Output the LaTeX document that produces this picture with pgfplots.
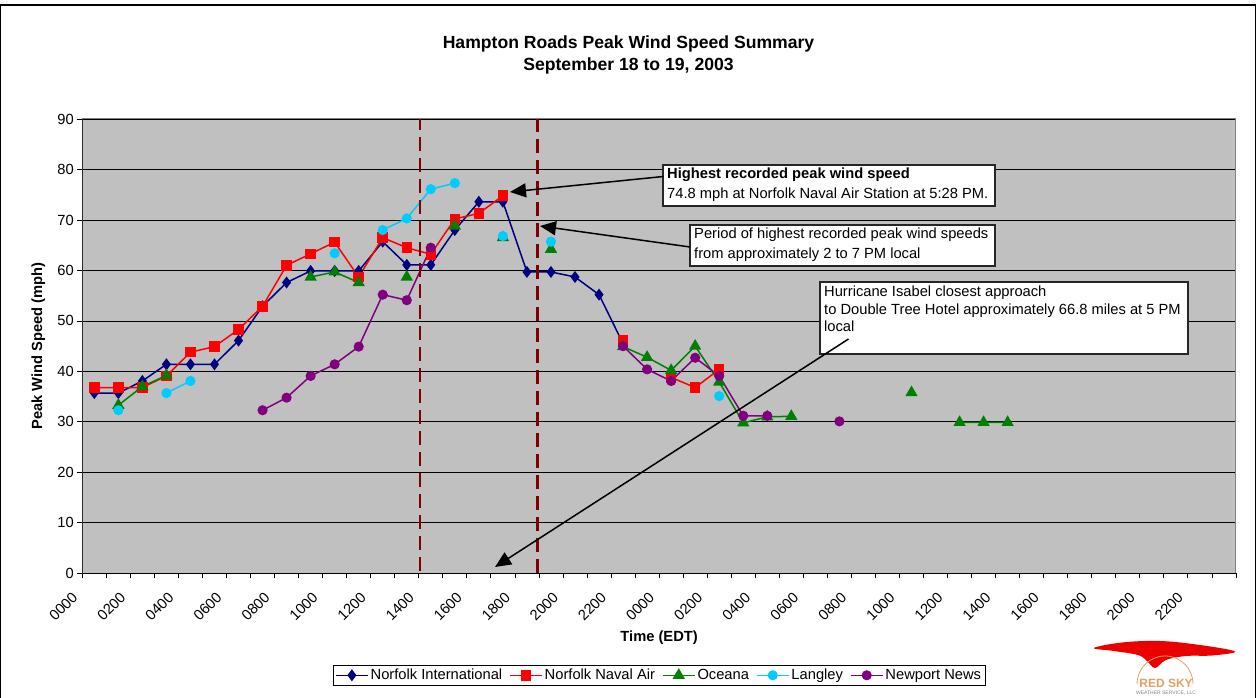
\documentclass[border=0pt]{standalone}
\usepackage{pgfplots}
\pgfplotsset{compat=1.18}
\usepackage{fontspec}
\setmainfont{Liberation Sans}
\usetikzlibrary{arrows.meta}
\definecolor{navyc}{RGB}{0,0,128}
\definecolor{redc}{RGB}{255,0,0}
\definecolor{greenc}{RGB}{0,128,0}
\definecolor{cyanc}{RGB}{0,204,255}
\definecolor{purplec}{RGB}{128,0,128}
\definecolor{maroonc}{RGB}{128,0,0}
\definecolor{plotbg}{RGB}{192,192,192}
\definecolor{logotan}{RGB}{226,160,100}
\newcommand{\fs}{\fontsize{14.7}{17}\selectfont}

\begin{document}
\begin{tikzpicture}[x=1pt,y=1pt]
\useasboundingbox (0,0) rectangle (1257,698);
\draw[line width=1.2pt] (0.8,0) -- (0.8,693) -- (1255.7,693) -- (1255.7,0);
\begin{axis}[
  at={(82.3pt,124.7pt)}, anchor=south west,
  width=1153.7pt, height=454.3pt, scale only axis,
  xmin=-0.5, xmax=47.5, ymin=0, ymax=90,
  axis background/.style={fill=plotbg},
  axis line style={draw=gray, line width=1pt},
  ytick={0,10,...,90},
  ymajorgrids, major grid style={black, line width=0.8pt},
  xtick={0,2,...,46},
  xticklabels={0000,0200,0400,0600,0800,1000,1200,1400,1600,1800,2000,2200,0000,0200,0400,0600,0800,1000,1200,1400,1600,1800,2000,2200},
  minor xtick={-0.5,0.5,...,47.5},
  xtick pos=bottom, ytick pos=left,
  tick align=outside,
  major tick length=5pt, minor tick length=5pt,
  tick style={black, line width=0.8pt},
  major x tick style={draw=none},
  xticklabel style={rotate=45, anchor=east, font=\fs, xshift=-22pt, yshift=2pt},
  yticklabel style={font=\fs},
  /pgf/number format/assume math mode=true,
  xlabel={\textbf{Time (EDT)}},
  ylabel={\textbf{Peak Wind Speed (mph)}},
  xlabel style={font=\fs, at={(axis description cs:0.5,-0.142)}, anchor=center},
  ylabel style={font=\fs, at={(axis description cs:-0.0381,0.5)}, anchor=center},
  unbounded coords=jump,
  legend columns=5,
  legend style={at={(0.5,-0.2245)}, anchor=center, draw=black, line width=1pt, font=\fs,
    /tikz/every even column/.append style={column sep=5pt}, inner sep=2pt},
  legend image code/.code={\draw[mark repeat=2,mark phase=2,#1] plot coordinates {(0pt,0pt) (16pt,0pt) (32pt,0pt)};},
]
\addplot[color=navyc, line width=1.5pt, mark=diamond*, mark size=4.8pt, mark options={solid, fill=navyc}] table {
x y
0 35.7
1 35.7
2 38.1
3 41.4
4 41.4
5 41.4
6 46.1
7 52.9
8 57.6
9 59.9
10 59.9
11 59.9
12 65.7
13 61.1
14 61.1
15 68.0
16 73.6
17 73.6
18 59.7
19 59.7
20 58.7
21 55.2
22 45.5
};
\addlegendentry{Norfolk International}
\addplot[color=redc, line width=1.5pt, mark=square*, mark size=4.5pt, mark options={solid, fill=redc}] table {
x y
0 36.8
1 36.8
2 36.8
3 39.1
4 43.8
5 44.9
6 48.3
7 52.9
8 61.0
9 63.3
10 65.6
11 58.7
12 66.5
13 64.5
14 63.2
15 70.2
16 71.3
17 74.8
18 nan
22 46.1
23 nan
24 38.8
25 36.8
26 40.4
};
\addlegendentry{Norfolk Naval Air}
\addplot[color=greenc, line width=1.5pt, mark=triangle*, mark size=5.6pt, mark options={solid, fill=greenc}] table {
x y
1 33.3
2 37.0
3 39.2
4 nan
9 58.7
10 59.7
11 57.6
12 nan
13 58.7
14 nan
15 68.8
16 nan
17 66.5
18 nan
19 64.2
20 nan
22 44.9
23 42.8
24 40.2
25 45.0
26 37.9
27 29.8
28 31.0
29 31.1
30 nan
34 35.8
35 nan
36 29.9
37 29.9
38 29.9
};
\addlegendentry{Oceana}
\addplot[color=cyanc, line width=1.5pt, mark=*, mark size=4.3pt, mark options={solid, fill=cyanc}] table {
x y
1 32.3
2 nan
3 35.7
4 38.1
5 nan
10 63.4
11 nan
12 68.0
13 70.3
14 76.1
15 77.3
16 nan
17 66.8
18 nan
19 65.7
20 nan
26 35.1
};
\addlegendentry{Langley}
\addplot[color=purplec, line width=1.5pt, mark=*, mark size=4.3pt, mark options={solid, fill=purplec}] table {
x y
7 32.3
8 34.8
9 39.1
10 41.4
11 44.9
12 55.2
13 54.1
14 64.5
15 nan
22 45.0
23 40.4
24 38.1
25 42.7
26 39.1
27 31.2
28 31.2
29 nan
31 30.1
};
\addlegendentry{Newport News}
\draw[maroonc, line width=2.8pt, dash pattern=on 14pt off 7pt] (axis cs:13.55,0.5) -- (axis cs:13.55,90);
\draw[maroonc, line width=2.8pt, dash pattern=on 14pt off 7pt] (axis cs:18.44,0) -- (axis cs:18.44,90);
\draw[black, line width=1.2pt] (axis cs:-0.5,90) -- (axis cs:-0.5,0) -- (axis cs:47.5,0);
\end{axis}
% title
\node[font=\bfseries\fontsize{17.6}{20}\selectfont] at (628.5,654) {Hampton Roads Peak Wind Speed Summary};
\node[font=\bfseries\fontsize{17.6}{20}\selectfont] at (628.5,632) {September 18 to 19, 2003};
% annotation 1
\draw[fill=white, line width=1.2pt, draw=black!85] (663,492) rectangle (995,533);
\node[anchor=base west, font=\bfseries\fs, inner sep=0] at (667,519) {Highest recorded peak wind speed};
\node[anchor=base west, font=\fs, inner sep=0] at (667,499.5) {74.8 mph at Norfolk Naval Air Station at 5:28 PM.};
\draw[line width=1.5pt, -{Triangle[length=16pt,width=14pt]}] (663.4,521.5) -- (510,506);
% annotation 2
\draw[fill=white, line width=1.2pt, draw=black!85] (690,432) rectangle (995,473);
\node[anchor=base west, font=\fs, inner sep=0] at (694,459) {Period of highest recorded peak wind speeds};
\node[anchor=base west, font=\fs, inner sep=0] at (694,439.5) {from approximately 2 to 7 PM local};
\draw[line width=1.5pt, -{Triangle[length=16pt,width=14pt]}] (690,451) -- (540,472);
% annotation 3
\draw[fill=white, line width=1.2pt, draw=black!85] (820,344) rectangle (1188,416);
\node[anchor=base west, font=\fs, inner sep=0] at (824,401) {Hurricane Isabel closest approach};
\node[anchor=base west, font=\fs, inner sep=0] at (824,383.5) {to Double Tree Hotel approximately 66.8 miles at 5 PM};
\node[anchor=base west, font=\fs, inner sep=0] at (824,366) {local};
\draw[line width=1.5pt, -{Triangle[length=16pt,width=14pt]}] (848.5,359) -- (495,131);
% logo
\fill[red!92!black] plot[smooth cycle, tension=0.6] coordinates {(1094,50) (1122,55.5) (1160,57) (1200,53) (1235,46.5) (1212,42.5) (1186,42) (1166,38) (1155,30) (1147,37) (1138,43) (1114,47)};
\draw[logotan, line width=0.8pt] (1137,14) arc[start angle=180, end angle=0, radius=28];
\node[text=logotan, font=\bfseries\fontsize{12}{12}\selectfont] at (1166,15) {RED SKY};
\node[text=gray, font=\fontsize{5}{5}\selectfont] at (1166,4.5) {WEATHER SERVICE, LLC};
\end{tikzpicture}
\end{document}
